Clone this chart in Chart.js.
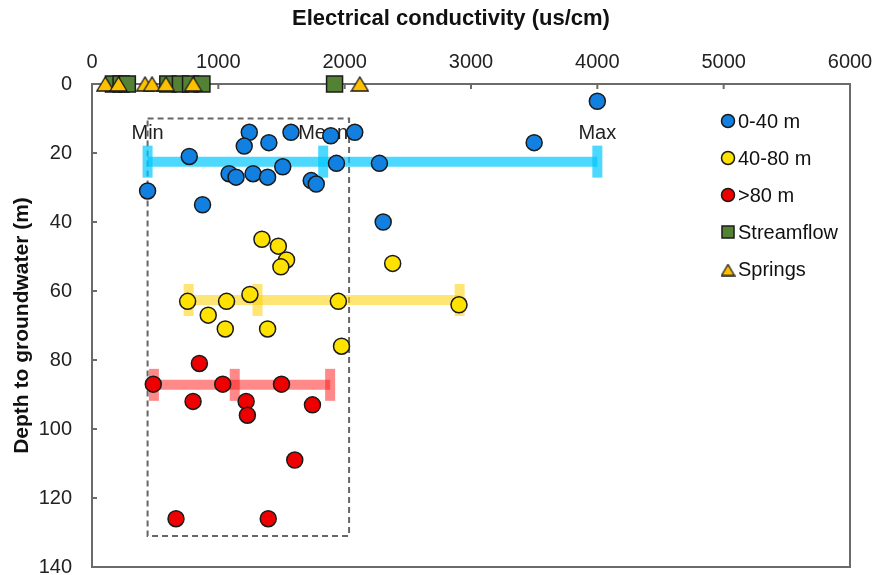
<!DOCTYPE html>
<html>
<head>
<meta charset="utf-8">
<script src="https://cdn.jsdelivr.net/npm/chart.js@4.4.0/dist/chart.umd.min.js"></script>
<style>
  html, body { margin: 0; padding: 0; background: #fff; }
</style>
</head>
<body>
<canvas id="ecChart" width="873" height="575"></canvas>
<script>
// axis ticks
const ecTicks = [0, 1000, 2000, 3000, 4000, 5000, 6000];
const depthTicks = [0, 20, 40, 60, 80, 100, 120, 140];

// groundwater samples (EC, depth)
const shallowEC = [4000, 3500, 1245, 1575, 2080, 1890, 1205, 1400, 770, 1935, 1510, 1085, 1140, 1275, 1390, 1735, 1775, 440, 875, 2275, 2305];
const shallowDepth = [5, 17, 14, 14, 14, 15, 18, 17, 21, 23, 24, 26, 27, 26, 27, 28, 29, 31, 35, 23, 40];
const midEC = [1345, 1475, 1540, 1495, 2380, 1250, 757, 1065, 1950, 2905, 920, 1055, 1390, 1975];
const midDepth = [45, 47, 51, 53, 52, 61, 63, 63, 63, 64, 67, 71, 71, 76];
const deepEC = [850, 485, 1035, 1500, 800, 1220, 1230, 1745, 1605, 665, 1395];
const deepDepth = [81, 87, 87, 87, 92, 92, 96, 93, 109, 126, 126];

// surface water, all at depth 0
const streamEC = [170, 230, 280, 600, 700, 780, 870, 1920];
const springEC = [105, 210, 420, 475, 585, 800, 2120];

// min / mean / max bars
const rangeLabels = ['Min', 'Mean', 'Max'];
const shallowRange = [440, 1830, 4000];
const midRange = [765, 1310, 2910];
const deepRange = [490, 1130, 1885];
const rangeDepths = [22.5, 62.6, 87.2];
const labelDepth = 14.2;

// dashed box
const boxEC = [440, 2035];
const boxDepth = [10, 131];

const FONT = '"Liberation Sans", Arial, sans-serif';
const frameColor = '#6b6b6b';

const toPoints = (xs, ys) => xs.map((x, i) => ({ x: x, y: Array.isArray(ys) ? ys[i] : ys }));

// excel-like triangle, centred on its bounding box rather than its centroid
function triangleMarker(w, h, fill) {
    const c = document.createElement('canvas');
    c.width = w + 2;
    c.height = h + 2;
    const g = c.getContext('2d');
    g.beginPath();
    g.moveTo(1, h + 1);
    g.lineTo(w / 2 + 1, 1);
    g.lineTo(w + 1, h + 1);
    g.closePath();
    g.fillStyle = fill;
    g.fill();
    g.lineWidth = 1.3;
    g.strokeStyle = '#1a1a1a';
    g.stroke();
    return c;
}

const pointDs = (label, xs, ys, fill, style, radius, order) => ({
    legendLabel: label,
    data: toPoints(xs, ys),
    pointStyle: style,
    pointRadius: radius,
    pointBackgroundColor: fill,
    pointBorderColor: '#1a1a1a',
    pointBorderWidth: 1.5,
    showLine: false,
    clip: false,
    order: order
});

const rangeDs = (xs, y, color) => ({
    data: toPoints(xs, y),
    showLine: true,
    borderColor: color,
    borderWidth: 10,
    pointStyle: 'line',
    rotation: 90,
    pointRadius: 16,
    pointBorderWidth: 10,
    pointBorderColor: color,
    clip: false,
    order: 2
});

const boxDs = {
    data: toPoints([boxEC[0], boxEC[1], boxEC[1], boxEC[0], boxEC[0]], [boxDepth[0], boxDepth[0], boxDepth[1], boxDepth[1], boxDepth[0]]),
    showLine: true,
    borderColor: '#666666',
    borderWidth: 2,
    borderDash: [6, 4],
    pointRadius: 0,
    clip: false,
    order: 3
};

const springFill = '#FFC000';
const springMark = triangleMarker(17, 14, springFill);
const springLegendMark = triangleMarker(13, 11, springFill);

const decorPlugin = {
    id: 'decor',
    beforeDatasetsDraw(chart) {
        const { ctx, chartArea: a, scales: { x, y } } = chart;
        ctx.save();
        ctx.strokeStyle = frameColor;
        ctx.lineWidth = 2;
        ctx.beginPath();
        ctx.moveTo(a.right, a.top);
        ctx.lineTo(a.right, a.bottom);
        ctx.lineTo(a.left, a.bottom);
        // ticks point inwards
        ecTicks.slice(1, -1).forEach(v => {
            const px = x.getPixelForValue(v);
            ctx.moveTo(px, a.top);
            ctx.lineTo(px, a.top + 5);
        });
        depthTicks.slice(1, -1).forEach(v => {
            const py = y.getPixelForValue(v);
            ctx.moveTo(a.left, py);
            ctx.lineTo(a.left + 5, py);
        });
        ctx.stroke();

        ctx.fillStyle = '#222';
        ctx.font = '20px ' + FONT;
        ctx.textAlign = 'center';
        ctx.textBaseline = 'middle';
        rangeLabels.forEach((t, i) => {
            ctx.fillText(t, x.getPixelForValue(shallowRange[i]), y.getPixelForValue(labelDepth));
        });
        ctx.restore();
    },
    afterDraw(chart) {
        const { ctx } = chart;
        ctx.save();
        // x axis title, sits a bit left of the plot centre in the original
        ctx.font = 'bold 22px ' + FONT;
        ctx.fillStyle = '#111';
        ctx.textAlign = 'center';
        ctx.textBaseline = 'middle';
        ctx.fillText('Electrical conductivity (us/cm)', 451, 19);

        ctx.font = '20px ' + FONT;
        ctx.textAlign = 'left';
        let row = 0;
        chart.data.datasets.forEach(ds => {
            if (!ds.legendLabel) return;
            const cy = 121 + row * 37;
            if (ds.pointStyle === springMark) {
                ctx.drawImage(springLegendMark, 728 - springLegendMark.width / 2, cy - springLegendMark.height / 2 + 1);
            } else {
                const r = ds.pointStyle === 'rect' ? 8.5 : 6.5;
                ctx.fillStyle = ds.pointBackgroundColor;
                ctx.strokeStyle = '#1a1a1a';
                ctx.lineWidth = 1.5;
                Chart.helpers.drawPoint(ctx, { pointStyle: ds.pointStyle, rotation: 0, radius: r, borderWidth: 1.5 }, 728, cy);
            }
            ctx.fillStyle = '#111';
            ctx.fillText(ds.legendLabel, 738, cy + 1);
            row++;
        });
        ctx.restore();
    }
};

new Chart(document.getElementById('ecChart'), {
    type: 'scatter',
    data: {
        datasets: [
            pointDs('0-40 m', shallowEC, shallowDepth, '#1180E0', 'circle', 8, 1),
            pointDs('40-80 m', midEC, midDepth, '#FFE200', 'circle', 8, 1),
            pointDs('>80 m', deepEC, deepDepth, '#EE0000', 'circle', 8, 1),
            pointDs('Streamflow', streamEC, 0, '#548235', 'rect', 11.3, 1),
            pointDs('Springs', springEC, 0, springFill, springMark, 9, 0),
            rangeDs(shallowRange, rangeDepths[0], 'rgba(0, 200, 255, 0.7)'),
            rangeDs(midRange, rangeDepths[1], 'rgba(255, 208, 0, 0.55)'),
            rangeDs(deepRange, rangeDepths[2], 'rgba(255, 20, 20, 0.5)'),
            boxDs
        ]
    },
    options: {
        responsive: false,
        animation: false,
        events: [],
        layout: { autoPadding: false, padding: { top: 0, left: 0, right: 23, bottom: 8 } },
        plugins: { legend: { display: false }, tooltip: { enabled: false } },
        scales: {
            x: {
                type: 'linear',
                position: 'top',
                min: 0,
                max: 6000,
                afterBuildTicks: s => { s.ticks = ecTicks.map(v => ({ value: v })); },
                afterFit: s => { s.height = 84; s.paddingLeft = 0; s.paddingRight = 0; },
                ticks: { color: '#222', padding: 10, callback: v => String(v), font: { size: 20, family: FONT } },
                grid: { drawOnChartArea: false, drawTicks: false },
                border: { display: true, color: frameColor, width: 2 }
            },
            y: {
                type: 'linear',
                reverse: true,
                min: 0,
                max: 140,
                afterBuildTicks: s => { s.ticks = depthTicks.map(v => ({ value: v })); },
                afterFit: s => { s.width = 92; s.paddingTop = 0; s.paddingBottom = 0; },
                ticks: { color: '#222', padding: 20, callback: v => String(v), font: { size: 20, family: FONT } },
                grid: { drawOnChartArea: false, drawTicks: false },
                border: { display: true, color: frameColor, width: 2 },
                title: {
                    display: true,
                    text: 'Depth to groundwater (m)',
                    color: '#111',
                    padding: { top: 10, bottom: 0 },
                    font: { size: 21, weight: 'bold', family: FONT }
                }
            }
        }
    },
    plugins: [decorPlugin]
});
</script>
</body>
</html>
